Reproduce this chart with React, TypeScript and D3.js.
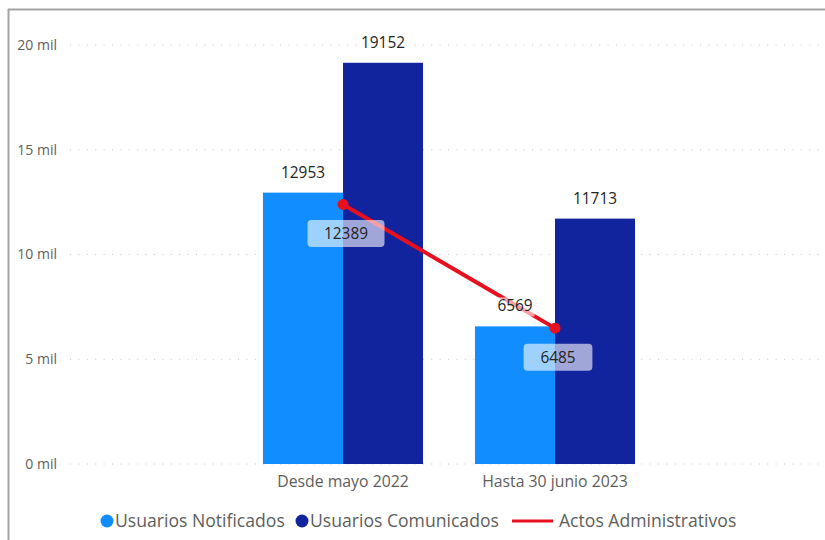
import React from "react";
import * as d3 from "d3";

const categories = ["Desde mayo 2022", "Hasta 30 junio 2023"];
const seriesNames = ["Usuarios Notificados", "Usuarios Comunicados"];
const notificados = [12953, 6569];
const comunicados = [19152, 11713];
const actos = [12389, 6485];
const lineName = "Actos Administrativos";
const yTicks = [0, 5000, 10000, 15000, 20000];
const yTickLabels = ["0 mil", "5 mil", "10 mil", "15 mil", "20 mil"];

const colors = ["#118DFF", "#12239E"];
const lineColor = "#E8101E";
const FONT = "'Open Sans', 'Noto Sans', sans-serif";

export default function App() {
  const W = 825, H = 540;
  const y = d3.scaleLinear().domain([0, 20000]).range([464, 45]);
  const x = d3.scaleBand<string>().domain(categories).range([76, 822]).paddingInner(0.245).paddingOuter(0.882);
  const xs = d3.scaleBand<string>().domain(seriesNames).range([0, x.bandwidth()]).padding(0);
  const values = [notificados, comunicados];
  const center = (c: string) => (x(c) as number) + x.bandwidth() / 2;
  const linePts: [number, number][] = categories.map((c, i) => [center(c), y(actos[i])]);
  const lineGen = d3.line();

  return (
    <svg width={W} height={H} style={{ position: "absolute", left: 0, top: 0, background: "#fff" }}>
      {/* border */}
      <line x1={8.5} y1={9} x2={8.5} y2={H} stroke="#a3a3a3" strokeWidth={2} />
      <line x1={8} y1={9.5} x2={W} y2={9.5} stroke="#a3a3a3" strokeWidth={2} />
      {/* grid */}
      {yTicks.map((t, i) => (
        <g key={t}>
          <line x1={70} x2={822} y1={y(t)} y2={y(t)} stroke="#c8c8c8" strokeWidth={1} strokeDasharray="1 7.4" />
          <text x={57} y={y(t)} dy="0.35em" textAnchor="end" fontFamily={FONT} fontSize={14} fill="#605E5C">
            {yTickLabels[i]}
          </text>
        </g>
      ))}
      {/* bars */}
      {categories.map((c, ci) => (
        <g key={c} transform={`translate(${x(c)},0)`}>
          {seriesNames.map((s, si) => (
            <rect key={s} x={xs(s)} y={y(values[si][ci])} width={xs.bandwidth()} height={y(0) - y(values[si][ci])} fill={colors[si]} />
          ))}
        </g>
      ))}
      {/* line */}
      <path d={lineGen(linePts) || ""} fill="none" stroke={lineColor} strokeWidth={4} />
      {linePts.map((p, i) => (
        <circle key={i} cx={p[0]} cy={p[1]} r={5.5} fill={lineColor} />
      ))}
      {/* bar labels */}
      {categories.map((c, ci) => (
        <g key={c} transform={`translate(${x(c)},0)`}>
          {seriesNames.map((s, si) => {
            const cx = (xs(s) as number) + xs.bandwidth() / 2;
            const ty = y(values[si][ci]) - 15;
            const label = String(values[si][ci]);
            const w = label.length * 8.8 + 4;
            return (
              <g key={s}>
                <rect x={cx - w / 2} y={ty - 14} width={w} height={19} fill="#fff" opacity={0.6} />
                <text x={cx} y={ty} textAnchor="middle" fontFamily={FONT} fontSize={15.4} fill="#252423">
                  {label}
                </text>
              </g>
            );
          })}
        </g>
      ))}
      {/* line labels */}
      {linePts.map((p, i) => {
        const label = String(actos[i]);
        const w = label.length * 8.2 + 36;
        const cx = p[0] + 3;
        const cy = p[1] + 29;
        return (
          <g key={i}>
            <rect x={cx - w / 2} y={cy - 13.5} width={w} height={27} rx={4} fill="#fff" opacity={0.6} />
            <text x={cx} y={cy} dy="0.35em" textAnchor="middle" fontFamily={FONT} fontSize={15.4} fill="#252423">
              {label}
            </text>
          </g>
        );
      })}
      {/* x axis labels */}
      {categories.map((c) => (
        <text key={c} x={center(c)} y={481} dy="0.35em" textAnchor="middle" fontFamily={FONT} fontSize={15.8} fill="#605E5C">
          {c}
        </text>
      ))}
      {/* legend */}
      <g fontFamily={FONT} fontSize={17.6} fill="#605E5C">
        <circle cx={107} cy={521} r={6.5} fill={colors[0]} />
        <text x={115} y={521} dy="0.35em">{seriesNames[0]}</text>
        <circle cx={302} cy={521} r={6.5} fill={colors[1]} />
        <text x={310} y={521} dy="0.35em">{seriesNames[1]}</text>
        <line x1={512} x2={553} y1={521} y2={521} stroke={lineColor} strokeWidth={3} />
        <text x={559} y={521} dy="0.35em">{lineName}</text>
      </g>
    </svg>
  );
}
